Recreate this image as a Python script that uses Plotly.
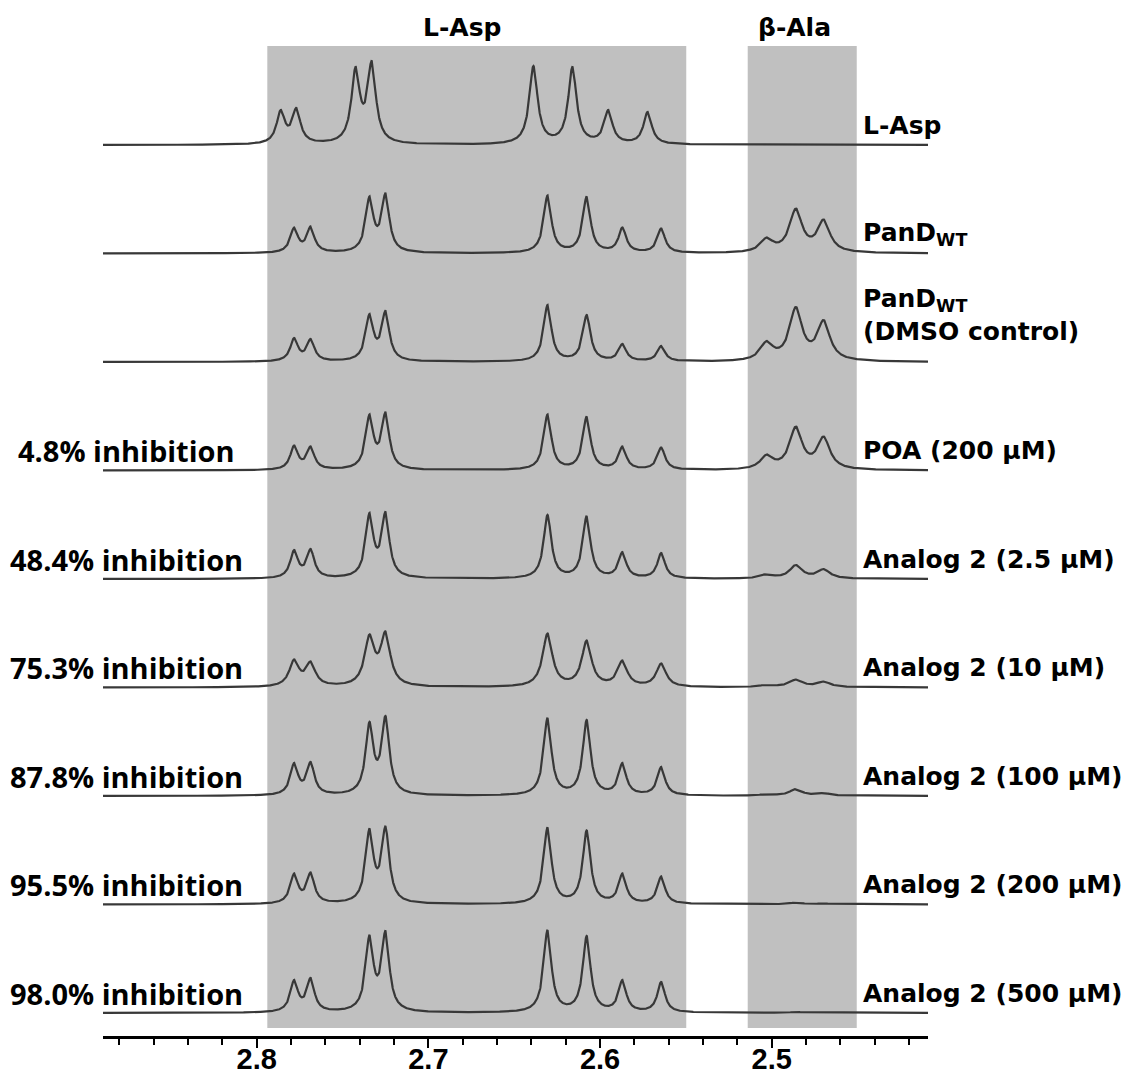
import numpy as np
import plotly.graph_objects as go

# ---------------- data ----------------
# chemical-shift window of the axis (ppm, reversed)
axis_left_ppm = 2.8895
axis_right_ppm = 2.409
tick_values = [2.8, 2.7, 2.6, 2.5]

# shaded regions (ppm)
asp_region = [2.7938, 2.5498]
bala_region = [2.5140, 2.4505]
region_titles = ["L-Asp", "β-Ala"]
region_title_ppm = [2.6802, 2.4870]

row_labels = [
    "L-Asp",
    "PanD<sub>WT</sub>",
    "PanD<sub>WT</sub><br>(DMSO control)",
    "POA (200 μM)",
    "Analog 2 (2.5 μM)",
    "Analog 2 (10 μM)",
    "Analog 2 (100 μM)",
    "Analog 2 (200 μM)",
    "Analog 2 (500 μM)",
]
inhibition_labels = [
    "", "", "",
    "4.8% inhibition",
    "48.4% inhibition",
    "75.3% inhibition",
    "87.8% inhibition",
    "95.5% inhibition",
    "98.0% inhibition",
]

# peak positions (ppm)
asp_shift_free = [2.7860, 2.7769, 2.7424, 2.7330, 2.6388, 2.6161, 2.5952, 2.5723]
asp_shift_enzyme = [2.7782, 2.7686, 2.7343, 2.7250, 2.6306, 2.6078, 2.5870, 2.5644]
bala_shift = [2.5030, 2.4860, 2.4698]

# observed peak heights (arbitrary intensity units)
asp_heights = [
    [35, 37, 78, 84, 79, 78, 35, 33],
    [26, 27, 57, 60, 58, 57, 26, 25],
    [24, 23, 48, 51, 57, 47, 18, 16],
    [25, 24, 56, 58, 56, 54, 24, 23],
    [29, 30, 66, 67, 64, 63, 27, 26],
    [28, 26, 53, 56, 54, 47, 27, 24],
    [33, 34, 74, 80, 78, 76, 33, 29],
    [31, 32, 76, 78, 77, 74, 31, 28],
    [33, 35, 78, 82, 83, 77, 33, 31],
]
bala_heights = [
    [0, 0, 0],
    [16, 45, 34],
    [21, 55, 42],
    [16, 44, 34],
    [5, 14, 10],
    [3, 8, 6],
    [2, 7, 3],
    [0, 2, 1],
    [0, 1, 0],
]
# half-widths at half maximum (ppm)
asp_hwhm = [0.0029, 0.0027, 0.0027, 0.0027, 0.0027, 0.0034, 0.0027, 0.0027, 0.0027]
bala_hwhm = [0.0044, 0.0044, 0.0044, 0.0044, 0.0044, 0.0047, 0.0044, 0.0044, 0.0044]

# ---------------- layout constants (pixels) ----------------
W, H = 1132, 1074
plot_left, plot_right = 103, 928
plot_top, plot_bottom = 0, 1036
row_top_baseline = 145      # pixel y of first baseline
row_step = 108.5            # pixel spacing between rows
label_raise = 20

line_color = "#383838"
shade_color = "#c0c0c0"


def ypix(p):
    return plot_bottom - p


ppm = np.linspace(axis_right_ppm, axis_left_ppm, 3000)


def spectrum(shifts, heights, widths):
    s = np.asarray(shifts, float)
    h = np.asarray(heights, float)
    g = np.asarray(widths, float)
    M = 1.0 / (1.0 + ((s[:, None] - s[None, :]) / g[None, :]) ** 2)
    amp = np.clip(np.linalg.solve(M, h), 0, None)
    y = np.zeros_like(ppm)
    for a, c, w in zip(amp, s, g):
        y += a / (1.0 + ((ppm - c) / w) ** 2)
    return y


fig = go.Figure()

for i in range(len(row_labels)):
    base = ypix(row_top_baseline + i * row_step)
    shifts = (asp_shift_free if i == 0 else asp_shift_enzyme) + bala_shift
    heights = asp_heights[i] + bala_heights[i]
    widths = [asp_hwhm[i]] * 8 + [bala_hwhm[i]] * 3
    y = base + spectrum(shifts, heights, widths)
    fig.add_trace(go.Scatter(x=ppm, y=y, mode="lines",
                             line=dict(color=line_color, width=2.2),
                             hoverinfo="skip", showlegend=False))

    fig.add_annotation(x=2.4483, y=base + label_raise + (27 if i == 2 else 0),
                       xref="x", yref="y", text="<b>" + row_labels[i] + "</b>",
                       showarrow=False, xanchor="left", yanchor="middle",
                       align="left",
                       font=dict(family="DejaVu Sans", size=25, color="black"))
    if inhibition_labels[i]:
        fig.add_annotation(x=2.8756, y=base + label_raise, xref="x", yref="y",
                           text=inhibition_labels[i], showarrow=False,
                           xanchor="center", yanchor="middle",
                           font=dict(family="Open Sans", size=29, color="black",
                                     weight="bold"))

shade_bottom = ypix(1028)
shade_top = ypix(46)
for reg in (asp_region, bala_region):
    fig.add_shape(type="rect", xref="x", yref="y", x0=reg[0], x1=reg[1],
                  y0=shade_bottom, y1=shade_top, fillcolor=shade_color,
                  line=dict(width=0), layer="below")

for t, xp in zip(region_titles, region_title_ppm):
    fig.add_annotation(x=xp, y=ypix(27), xref="x", yref="y", text="<b>" + t + "</b>",
                       showarrow=False, xanchor="center", yanchor="middle",
                       font=dict(family="DejaVu Sans", size=25, color="black"))

fig.update_layout(
    width=W, height=H,
    margin=dict(l=plot_left, r=W - plot_right, t=plot_top, b=H - plot_bottom,
                pad=0, autoexpand=False),
    paper_bgcolor="white", plot_bgcolor="white",
    showlegend=False,
    xaxis=dict(range=[axis_left_ppm, axis_right_ppm], tickvals=tick_values,
               ticktext=["%.1f" % v for v in tick_values],
               automargin=False,
               showline=True, linecolor="black", linewidth=3,
               ticks="outside", ticklen=9, tickwidth=2, tickcolor="black",
               ticklabelstandoff=-14,
               showgrid=False, zeroline=False,
               tickfont=dict(family="Liberation Sans, Arial", size=29,
                             color="black", weight="bold"),
               minor=dict(dtick=0.02, tick0=2.8, ticks="outside", ticklen=6,
                          tickwidth=2, tickcolor="black", showgrid=False)),
    yaxis=dict(range=[0, plot_bottom - plot_top], visible=False,
               automargin=False, showgrid=False, zeroline=False),
)

fig.write_html(
    "out.html",
    config={"displayModeBar": False},
    post_script="document.body.style.margin='0px';document.body.style.padding='0px';",
)
